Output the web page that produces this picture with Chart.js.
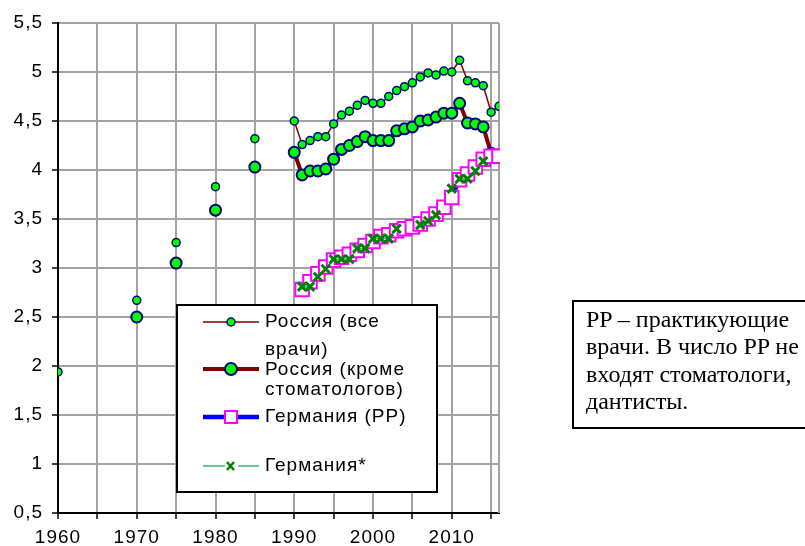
<!DOCTYPE html>
<html lang="ru">
<head>
<meta charset="utf-8">
<title>Врачи на 1000 жителей</title>
<script src="https://cdn.jsdelivr.net/npm/chart.js@4.4.1/dist/chart.umd.min.js"></script>
<style>
  html, body { margin: 0; padding: 0; background: #fff; }
  #wrap { position: relative; width: 805px; height: 546px; overflow: hidden; }
  #note {
    position: absolute; left: 572px; top: 300px; width: 250px; height: 129px;
    box-sizing: border-box; border: 2px solid #000; padding: 4px 0 0 12px;
    font-family: 'Liberation Serif', 'Times New Roman', serif; font-size: 24px;
    line-height: 27.3px; color: #000; white-space: nowrap;
  }
</style>
</head>
<body>
<div id="wrap">
  <canvas id="chart" width="805" height="546"></canvas>
  <div id="note">PP – практикующие<br>врачи. В число PP не<br>входят стоматологи,<br>дантисты.</div>
</div>
<script>
// годы (ось X)
const years = [1960, 1970, 1975, 1980, 1985,
  1990, 1991, 1992, 1993, 1994, 1995, 1996, 1997, 1998, 1999,
  2000, 2001, 2002, 2003, 2004, 2005, 2006, 2007, 2008, 2009,
  2010, 2011, 2012, 2013, 2014, 2015, 2016];

// врачей на 1000 жителей
const russiaAll = [1.94, 2.67, 3.26, 3.83, 4.32,
  4.50, 4.26, 4.30, 4.34, 4.34, 4.47, 4.56, 4.60, 4.66, 4.71,
  4.68, 4.68, 4.75, 4.81, 4.85, 4.89, 4.95, 4.99, 4.97, 5.01,
  5.00, 5.12, 4.91, 4.89, 4.86, 4.59, 4.65];

const russiaNoDent = [null, 2.50, 3.05, 3.59, 4.03,
  4.18, 3.95, 3.99, 3.99, 4.01, 4.11, 4.21, 4.25, 4.29, 4.34,
  4.30, 4.30, 4.30, 4.40, 4.42, 4.44, 4.50, 4.51, 4.54, 4.58,
  4.58, 4.68, 4.48, 4.47, 4.44, 4.17, null];

const germanyPP = [null, null, null, null, null,
  null, 2.78, 2.86, 2.94, 3.01, 3.08, 3.11, 3.14, 3.18, 3.23,
  3.27, 3.32, 3.34, 3.38, 3.40, 3.42, 3.45, 3.50, 3.55, 3.62,
  3.72, 3.90, 3.96, 4.03, 4.11, 4.14, 4.14];

const germanyStar = [null, null, null, null, null,
  null, 2.81, 2.81, 2.91, 2.99, 3.09, 3.09, 3.09, 3.20, 3.20,
  3.30, 3.30, 3.30, 3.40, null, null, 3.44, 3.48, 3.54, null,
  3.81, 3.91, 3.91, 3.99, 4.09, null, null];

const xLabels = [1960, 1970, 1980, 1990, 2000, 2010];

const legendRows = [
  ['Россия (все', 322], ['врачи)', 350],
  ['Россия (кроме', 370], ['стоматологов)', 390],
  ['Германия (PP)', 417],
  ['Германия*', 466]
];

const FONT = "'Liberation Sans', Arial, sans-serif";
Chart.defaults.font.family = FONT;
Chart.defaults.color = '#000';

function points(values) {
  return years.map((x, i) => ({ x: x, y: values[i] }));
}

// не соединяем точки, между которыми пропущены годы
const gapSegment = {
  borderColor: c => (c.p1.parsed.x - c.p0.parsed.x > 1 ? 'rgba(0,0,0,0)' : undefined)
};

const spacingPlugin = {
  id: 'spacing',
  beforeDraw(chart) {
    chart.ctx.letterSpacing = '1px';
  }
};

const framePlugin = {
  id: 'frame',
  beforeDatasetsDraw(chart) {
    const a = chart.chartArea;
    const ctx = chart.ctx;
    ctx.save();
    ctx.strokeStyle = '#a3a3a3';
    ctx.lineWidth = 2;
    ctx.beginPath();
    ctx.moveTo(a.right, a.top);
    ctx.lineTo(a.right, a.bottom);
    ctx.stroke();
    ctx.restore();
  }
};

function sampleLine(ctx, x0, x1, y, color, width) {
  ctx.strokeStyle = color;
  ctx.lineWidth = width;
  ctx.beginPath();
  ctx.moveTo(x0, y);
  ctx.lineTo(x1, y);
  ctx.stroke();
}

function sampleCircle(ctx, x, y, r, bw) {
  ctx.fillStyle = '#00ff00';
  ctx.strokeStyle = '#000080';
  ctx.lineWidth = bw;
  ctx.beginPath();
  ctx.arc(x, y, r, 0, Math.PI * 2);
  ctx.fill();
  ctx.stroke();
}

const legendPlugin = {
  id: 'boxLegend',
  afterDraw(chart) {
    const ctx = chart.ctx;
    ctx.save();
    ctx.fillStyle = '#fff';
    ctx.fillRect(177, 305, 260, 187);
    ctx.strokeStyle = '#000';
    ctx.lineWidth = 2;
    ctx.strokeRect(177, 305, 260, 187);

    const x0 = 203, x1 = 259, mx = 231;
    sampleLine(ctx, x0, x1, 322, '#800000', 1.5);
    sampleCircle(ctx, mx, 322, 4, 1.5);

    sampleLine(ctx, x0, x1, 369, '#800000', 4);
    sampleCircle(ctx, mx, 369, 6, 2);

    sampleLine(ctx, x0, x1, 417, '#0000ff', 4.5);
    ctx.fillStyle = '#fff';
    ctx.strokeStyle = '#ff00ff';
    ctx.lineWidth = 2;
    ctx.fillRect(mx - 6, 411, 12, 12);
    ctx.strokeRect(mx - 6, 411, 12, 12);

    sampleLine(ctx, x0, 225, 466, '#3cb371', 1.5);
    sampleLine(ctx, 238, x1, 466, '#3cb371', 1.5);
    ctx.strokeStyle = '#008000';
    ctx.lineWidth = 2.5;
    ctx.beginPath();
    ctx.moveTo(mx - 4, 462); ctx.lineTo(mx + 3, 470);
    ctx.moveTo(mx + 3, 462); ctx.lineTo(mx - 4, 470);
    ctx.stroke();

    ctx.fillStyle = '#000';
    ctx.font = '19px ' + FONT;
    ctx.letterSpacing = '1px';
    ctx.textBaseline = 'middle';
    ctx.textAlign = 'left';
    legendRows.forEach(([t, y]) => ctx.fillText(t, 265, y));
    ctx.restore();
  }
};

new Chart(document.getElementById('chart'), {
  type: 'line',
  data: {
    datasets: [
      {
        label: 'Германия*',
        data: points(germanyStar),
        order: 0,
        borderColor: '#3cb371',
        borderWidth: 1.5,
        pointStyle: 'crossRot',
        pointRadius: 6,
        pointBorderColor: '#008000',
        pointBackgroundColor: '#008000',
        pointBorderWidth: 3,
        segment: gapSegment
      },
      {
        label: 'Германия (PP)',
        data: points(germanyPP),
        order: 1,
        borderColor: '#0000ff',
        borderWidth: 4,
        pointStyle: 'rect',
        pointRadius: 9.6,
        pointBackgroundColor: '#ffffff',
        pointBorderColor: '#ff00ff',
        pointBorderWidth: 2,
        clip: { left: 10, top: 10, right: 1, bottom: 10 },
        segment: gapSegment
      },
      {
        label: 'Россия (кроме стоматологов)',
        data: points(russiaNoDent),
        order: 2,
        borderColor: '#800000',
        borderWidth: 4,
        pointRadius: 5.5,
        pointBackgroundColor: '#00ff00',
        pointBorderColor: '#000080',
        pointBorderWidth: 2,
        segment: gapSegment
      },
      {
        label: 'Россия (все врачи)',
        data: points(russiaAll),
        order: 3,
        borderColor: '#800000',
        borderWidth: 1.5,
        pointRadius: 4,
        pointBackgroundColor: '#00ff00',
        pointBorderColor: '#000080',
        pointBorderWidth: 1.5,
        segment: gapSegment
      }
    ]
  },
  options: {
    responsive: false,
    animation: false,
    events: [],
    layout: { padding: { top: 23, right: 306, left: 0, bottom: 0 } },
    plugins: {
      legend: { display: false },
      tooltip: { enabled: false }
    },
    scales: {
      x: {
        type: 'linear',
        min: 1960,
        max: 2016,
        afterFit: s => { s.height = 33; },
        grid: { color: '#a3a3a3', lineWidth: 2, tickLength: 6, tickColor: '#000', tickWidth: 1.5 },
        border: { color: '#000', width: 2 },
        ticks: {
          stepSize: 5,
          includeBounds: false,
          autoSkip: false,
          maxRotation: 0,
          padding: 7,
          font: { size: 19 },
          callback: v => (xLabels.includes(v) ? String(v) : '')
        }
      },
      y: {
        min: 0.5,
        max: 5.5,
        afterFit: s => { s.width = 58; },
        grid: { color: '#a3a3a3', lineWidth: 2, tickLength: 6, tickColor: '#000', tickWidth: 1.5 },
        border: { color: '#000', width: 2 },
        ticks: {
          stepSize: 0.5,
          padding: 9,
          font: { size: 19 },
          callback: v => String(v).replace('.', ',')
        }
      }
    }
  },
  plugins: [spacingPlugin, framePlugin, legendPlugin]
});
</script>
</body>
</html>
